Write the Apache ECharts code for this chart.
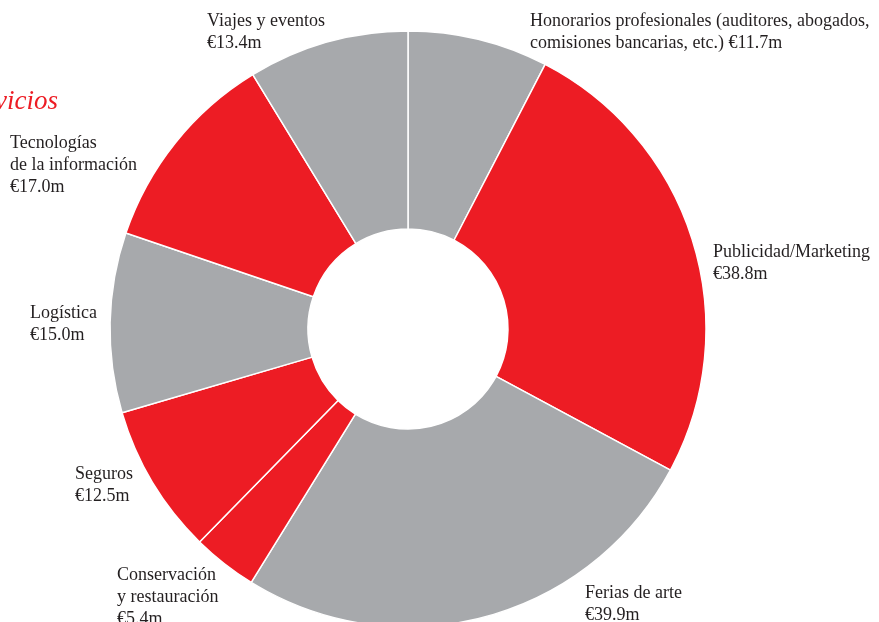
<!DOCTYPE html>
<html>
<head>
<meta charset="utf-8">
<script src="https://cdn.jsdelivr.net/npm/echarts@6/dist/echarts.min.js"></script>
<style>
  html, body { margin: 0; padding: 0; background: #fff; }
  #chart { width: 879px; height: 622px; }
</style>
</head>
<body>
<div id="chart"></div>
<script>
// datos del gráfico (millones de euros), en sentido horario desde arriba
var categories = [
  'Honorarios profesionales (auditores, abogados,\ncomisiones bancarias, etc.)',
  'Publicidad/Marketing',
  'Ferias de arte',
  'Conservación\ny restauración',
  'Seguros',
  'Logística',
  'Tecnologías\nde la información',
  'Viajes y eventos'
];
var values = [11.7, 38.8, 39.9, 5.4, 12.5, 15.0, 17.0, 13.4];
var sliceColors = ['#A7A9AC', '#ED1C24', '#A7A9AC', '#ED1C24', '#ED1C24', '#A7A9AC', '#ED1C24', '#A7A9AC'];

// separador entre nombre y valor
var valueSep = [' ', '\n', '\n', '\n', '\n', '\n', '\n', '\n'];

// posición de las etiquetas (esquina superior izquierda)
var labelPos = [
  [530, 10], [713, 241], [585, 582], [117, 564],
  [75, 463], [30, 302], [10, 132], [207, 10]
];

var serif = 'Liberation Serif, Times New Roman, serif';

var chart = echarts.init(document.getElementById('chart'));

var seriesData = categories.map(function (name, i) {
  return { name: name, value: values[i], itemStyle: { color: sliceColors[i] } };
});

var option = {
  animation: false,
  graphic: [{
    type: 'text',
    left: -41,
    top: 88,
    style: {
      text: 'Servicios',
      font: 'italic 27px ' + serif,
      fill: '#ED1C24'
    }
  }],
  series: [{
    type: 'pie',
    center: [408, 329],
    radius: [100, 298],
    startAngle: 90,
    clockwise: true,
    avoidLabelOverlap: false,
    itemStyle: { borderColor: '#fff', borderWidth: 1.5 },
    label: {
      show: true,
      position: 'outside',
      fontFamily: serif,
      fontSize: 18,
      lineHeight: 22,
      color: '#231F20',
      align: 'left',
      formatter: function (p) {
        return p.name + valueSep[p.dataIndex] + '€' + p.value.toFixed(1) + 'm';
      }
    },
    labelLine: { show: false },
    labelLayout: function (p) {
      var pos = labelPos[p.dataIndex];
      return { x: pos[0], y: pos[1], align: 'left', verticalAlign: 'top' };
    },
    emphasis: { disabled: true },
    data: seriesData
  }]
};

chart.setOption(option);
</script>
</body>
</html>
